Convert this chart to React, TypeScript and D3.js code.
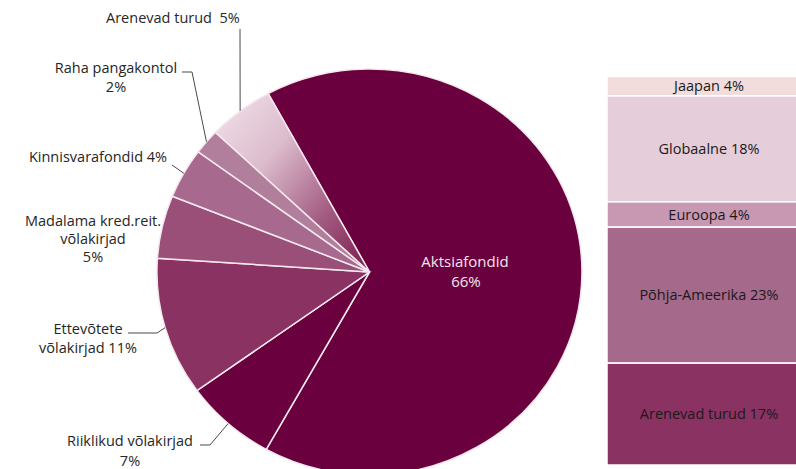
import React from "react";
import * as d3 from "d3";

const pieCategories = [
  "Aktsiafondid",
  "Riiklikud võlakirjad",
  "Ettevõtete võlakirjad",
  "Madalama kred.reit. võlakirjad",
  "Kinnisvarafondid",
  "Raha pangakontol",
  "Arenevad turud",
];
const pieValues = [66, 7, 11, 5, 4, 2, 5];
const pieColors = ["#6b003f", "#6b003f", "#8a3363", "#9a4f79", "#a7698e", "#b17f9c", "url(#gradAr)"];

const barCategories = ["Jaapan", "Globaalne", "Euroopa", "Põhja-Ameerika", "Arenevad turud"];
const barValues = [3.3, 18.0, 4.3, 23.1, 17.3];
const barLabels = ["Jaapan 4%", "Globaalne 18%", "Euroopa 4%", "Põhja-Ameerika 23%", "Arenevad turud 17%"];
const barColors = ["#f2dcdc", "#e5cdd9", "#c898b2", "#a4698b", "#8a3262"];

const W = 796;
const H = 469;
const cx = 369.5;
const cy = 272;
const rx = 212.5;
const ry = 203;
const startDeg = -28.5;
const font = "'Open Sans', sans-serif";

export default function App() {
  const pie = d3
    .pie<number>()
    .sort(null)
    .value((d) => d)
    .startAngle((startDeg * Math.PI) / 180)
    .endAngle((startDeg * Math.PI) / 180 + 2 * Math.PI);
  const arcs = pie(pieValues);
  const arc = d3.arc<d3.PieArcDatum<number>>().innerRadius(0).outerRadius(1);

  const edge = (i: number) => {
    const a = (arcs[i].startAngle + arcs[i].endAngle) / 2;
    return [cx + rx * Math.sin(a), cy - ry * Math.cos(a)];
  };

  const total = d3.sum(barValues);
  const y = d3.scaleLinear().domain([0, total]).range([76.5, 465]);
  const cum = barValues.map((_, i) => d3.sum(barValues.slice(0, i)));
  const barX = 607;
  const barW = 205;

  const lbl = { fontFamily: font, fontSize: 14.5, fill: "#262626" } as const;
  const leaders: [number, number][][] = [
    [[240, 29], edge(6) as [number, number]],
    [[182, 72], [192, 72], edge(5) as [number, number]],
    [[172, 165], edge(4) as [number, number]],
    [[128, 333], [157, 333], edge(2) as [number, number]],
    [[200, 445], [210, 445], edge(1) as [number, number]],
  ];
  const line = d3.line();

  return (
    <svg width={W} height={H} style={{ position: "absolute", left: 0, top: 0, background: "#fff" }}>
      <defs>
        <linearGradient id="gradAr" x1="0" y1="0" x2="1" y2="1">
          <stop offset="0" stopColor="#f1e3ea" />
          <stop offset="0.35" stopColor="#dcbccd" />
          <stop offset="0.7" stopColor="#a25a80" />
          <stop offset="1" stopColor="#7a1a4d" />
        </linearGradient>
      </defs>
      <g transform={`translate(${cx},${cy}) scale(${rx},${ry})`}>
        {arcs.map((a, i) => (
          <path
            key={pieCategories[i]}
            d={arc(a) || ""}
            fill={pieColors[i]}
            stroke="#f4e8ee"
            strokeWidth={1.5}
            vectorEffect="non-scaling-stroke"
          />
        ))}
      </g>
      {leaders.map((pts, i) => (
        <path key={i} d={line(pts) || ""} fill="none" stroke="#4a4a4a" strokeWidth={1} />
      ))}
      <text {...lbl} x={106} y={23} style={{ whiteSpace: "pre" }}>Arenevad turud  5%</text>
      <text {...lbl} x={116} y={73} textAnchor="middle">Raha pangakontol</text>
      <text {...lbl} x={116} y={92} textAnchor="middle">2%</text>
      <text {...lbl} x={98} y={162} textAnchor="middle">Kinnisvarafondid 4%</text>
      <text {...lbl} x={93} y={226} textAnchor="middle">Madalama kred.reit.</text>
      <text {...lbl} x={93} y={244} textAnchor="middle">võlakirjad</text>
      <text {...lbl} x={93} y={262} textAnchor="middle">5%</text>
      <text {...lbl} x={88} y={334} textAnchor="middle">Ettevõtete</text>
      <text {...lbl} x={88} y={353} textAnchor="middle">võlakirjad 11%</text>
      <text {...lbl} x={130} y={446} textAnchor="middle">Riiklikud võlakirjad</text>
      <text {...lbl} x={130} y={466} textAnchor="middle">7%</text>
      <text x={465} y={267} textAnchor="middle" fontFamily={font} fontSize={15} fill="#f3e4ec">Aktsiafondid</text>
      <text x={466} y={287} textAnchor="middle" fontFamily={font} fontSize={15} fill="#f3e4ec">66%</text>

      {barValues.map((v, i) => (
        <g key={barCategories[i]}>
          <rect
            x={barX}
            y={y(cum[i])}
            width={barW}
            height={y(cum[i] + v) - y(cum[i])}
            fill={barColors[i]}
            stroke="#ffffff"
            strokeWidth={1.5}
          />
          <text
            x={barX + 102}
            y={(y(cum[i]) + y(cum[i] + v)) / 2 + 5}
            textAnchor="middle"
            fontFamily={font}
            fontSize={14.5}
            fill="#1a1a1a"
          >
            {barLabels[i]}
          </text>
        </g>
      ))}
    </svg>
  );
}
